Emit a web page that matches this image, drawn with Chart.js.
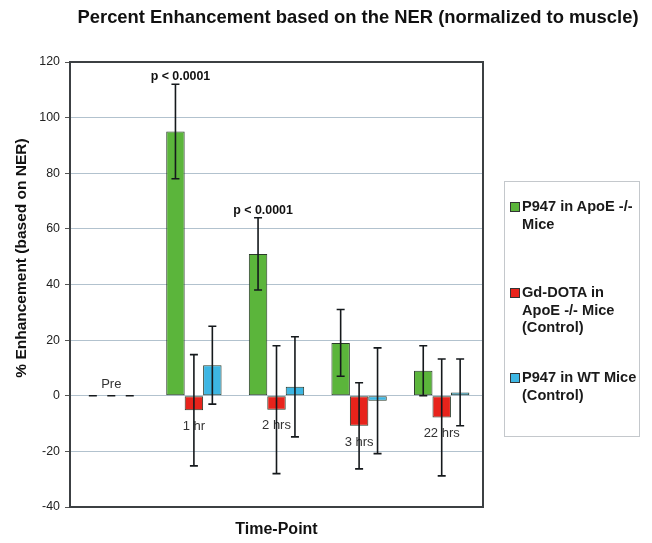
<!DOCTYPE html>
<html>
<head>
<meta charset="utf-8">
<script src="https://cdn.jsdelivr.net/npm/chart.js@4.4.1/dist/chart.umd.min.js"></script>
<style>
  body { margin: 0; background: #fff; }
  #wrap { position: relative; width: 652px; height: 543px; }
  #legend {
    position: absolute; left: 504px; top: 181px; width: 136px; height: 256px;
    border: 1px solid #c4c8cc; box-sizing: border-box;
    font: bold 14.6px "Liberation Sans", Arial, sans-serif; color: #1a1a1a;
  }
  .item { position: absolute; left: 5px; line-height: 17.5px; }
  .item span.box {
    position: absolute; left: 0; top: 4px; width: 8px; height: 8px; border: 1px solid #333;
  }
  .item div { margin-left: 12px; white-space: nowrap; }
</style>
</head>
<body>
<div id="wrap">
  <canvas id="chart" width="652" height="543"></canvas>
  <div id="legend"></div>
</div>
<script>
// data
const categories = ['Pre', '1 hr', '2 hrs', '3 hrs', '22 hrs'];

const seriesNames = [
  ['P947 in ApoE -/-', 'Mice'],
  ['Gd-DOTA in', 'ApoE -/- Mice', '(Control)'],
  ['P947 in WT Mice', '(Control)']
];

const p947ApoE = [0, 95, 51, 19, 9];
const p947ApoEErr = [0, 17, 13, 12, 9];

const gdDotaApoE = [0, -5.2, -5, -10.8, -7.8];
const gdDotaApoEErr = [0, 20, 23, 15.5, 21];

const p947WT = [0, 11, 3.2, -1.8, 1.2];
const p947WTErr = [0, 14, 18, 19, 12];

const pValues = ['', 'p < 0.0001', 'p < 0.0001', '', ''];

const yTicks = { min: -40, max: 120, step: 20 };

const colors = ['#5bb53b', '#e8231b', '#3db6e3'];
const FONT = '"Liberation Sans", Arial, sans-serif';

const allErrors = [p947ApoEErr, gdDotaApoEErr, p947WTErr];

// build legend from the series names
const legend = document.getElementById('legend');
const itemTops = [16, 102, 187];
seriesNames.forEach((lines, i) => {
  const item = document.createElement('div');
  item.className = 'item';
  item.style.top = itemTops[i] + 'px';
  item.innerHTML = '<span class="box" style="background:' + colors[i] + '"></span>' +
    '<div>' + lines.join('<br>') + '</div>';
  legend.appendChild(item);
});

const extras = {
  id: 'extras',
  afterDatasetsDraw(chart, args, opts) {
    const ctx = chart.ctx;
    const x = chart.scales.x;
    const y = chart.scales.y;
    const zero = y.getPixelForValue(0);

    // category labels sit inside the plot near the bars
    ctx.save();
    ctx.font = '13px ' + FONT;
    ctx.fillStyle = '#333';
    ctx.textAlign = 'center';
    ctx.textBaseline = 'middle';
    categories.forEach((c, i) => {
      ctx.fillText(c, x.getPixelForValue(i), zero + opts.labelOffsets[i]);
    });
    ctx.restore();

    // error bars
    ctx.save();
    ctx.strokeStyle = '#15191c';
    ctx.lineWidth = 1.6;
    chart.data.datasets.forEach((ds, d) => {
      const meta = chart.getDatasetMeta(d);
      meta.data.forEach((bar, i) => {
        const v = ds.data[i];
        const e = allErrors[d][i];
        const top = y.getPixelForValue(v + e);
        const bot = y.getPixelForValue(v - e);
        const half = 4;
        ctx.beginPath();
        ctx.moveTo(bar.x, top); ctx.lineTo(bar.x, bot);
        ctx.moveTo(bar.x - half, top); ctx.lineTo(bar.x + half, top);
        ctx.moveTo(bar.x - half, bot); ctx.lineTo(bar.x + half, bot);
        ctx.stroke();
      });
    });
    ctx.restore();

    // significance labels above the green series
    ctx.save();
    ctx.font = 'bold 12.4px ' + FONT;
    ctx.fillStyle = '#111';
    ctx.textAlign = 'center';
    ctx.textBaseline = 'bottom';
    const meta0 = chart.getDatasetMeta(0);
    pValues.forEach((p, i) => {
      if (!p) return;
      const bar = meta0.data[i];
      const top = y.getPixelForValue(p947ApoE[i] + p947ApoEErr[i]);
      ctx.fillText(p, bar.x + 5, top - 1);
    });
    ctx.restore();
  },
  afterDraw(chart) {
    const ctx = chart.ctx;
    const a = chart.chartArea;
    ctx.save();
    ctx.strokeStyle = '#3c4043';
    ctx.lineWidth = 2;
    ctx.strokeRect(a.left, a.top, a.right - a.left, a.bottom - a.top);

    ctx.fillStyle = '#111';
    ctx.textAlign = 'center';
    ctx.textBaseline = 'middle';
    ctx.font = 'bold 18.4px ' + FONT;
    ctx.fillText('Percent Enhancement based on the NER (normalized to muscle)', 358, 18);

    ctx.translate(22, 258);
    ctx.rotate(-Math.PI / 2);
    ctx.font = 'bold 15.5px ' + FONT;
    ctx.fillText('% Enhancement (based on NER)', 0, 0);
    ctx.restore();
  }
};

new Chart(document.getElementById('chart').getContext('2d'), {
  type: 'bar',
  data: {
    labels: categories,
    datasets: [p947ApoE, gdDotaApoE, p947WT].map((data, i) => ({
      label: seriesNames[i].join(' '),
      data: data,
      backgroundColor: colors[i],
      borderColor: '#2a3a2a',
      borderWidth: 1,
      borderSkipped: false,
      categoryPercentage: 0.67,
      barPercentage: 1
    }))
  },
  options: {
    responsive: false,
    animation: false,
    devicePixelRatio: 1,
    layout: { padding: { top: 62, right: 169, left: 0, bottom: 0 } },
    scales: {
      x: {
        grid: { display: false },
        border: { display: false },
        ticks: { display: false },
        title: {
          display: true,
          text: 'Time-Point',
          color: '#111',
          font: { family: FONT, size: 16, weight: 'bold' },
          padding: { top: 0, bottom: 4 }
        },
        afterFit(scale) { scale.height = 36; }
      },
      y: {
        min: yTicks.min,
        max: yTicks.max,
        ticks: {
          stepSize: yTicks.step,
          color: '#222',
          padding: 5,
          font: { family: FONT, size: 12.4 }
        },
        grid: { color: '#b2c2ce', tickColor: '#555', tickLength: 5, lineWidth: 1 },
        border: { display: false },
        afterFit(scale) { scale.width = 70; }
      }
    },
    plugins: {
      legend: { display: false },
      tooltip: { enabled: false },
      extras: { labelOffsets: [-11, 31, 30, 47, 38] }
    }
  },
  plugins: [extras]
});
</script>
</body>
</html>
